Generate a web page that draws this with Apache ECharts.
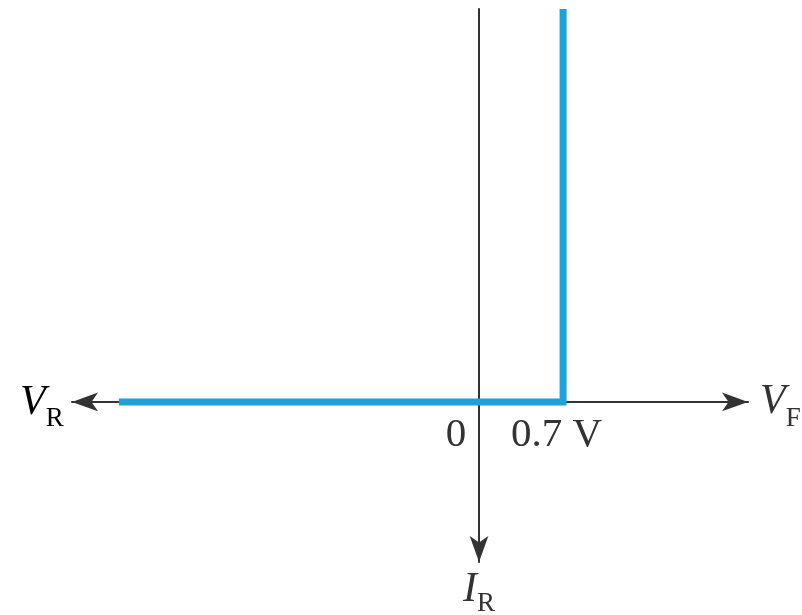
<!DOCTYPE html>
<html>
<head>
<meta charset="utf-8">
<title>Diode characteristic</title>
<script src="https://cdn.jsdelivr.net/npm/echarts@6/dist/echarts.min.js"></script>
<style>
  html, body { margin: 0; padding: 0; background: #fff; }
  #chart { width: 802px; height: 615px; }
</style>
</head>
<body>
<div id="chart"></div>
<script>
// axis ranges (volts on x, arbitrary current units on y)
const xRange = [-3.39, 2.24]
const yRange = [-1.63, 4]

// ideal-ish diode curve: flat reverse branch, knee at 0.7 V
const curveX = [-3.0, 0.7, 0.7]
const curveY = [0, 0, 4]

const tickValues = [0, 0.7]
const tickLabels = ['0', '0.7 V']

const serif = 'Liberation Serif'
const ink = '#333'
const blue = '#1da1db'

const sub = (pad) => ({
  v: { fontFamily: serif, fontSize: 42, fontStyle: 'italic', color: ink, lineHeight: 50 },
  s: { fontFamily: serif, fontSize: 27, color: ink, lineHeight: 50, padding: [pad, 0, 0, 0] }
})

const chart = echarts.init(document.getElementById('chart'))

chart.setOption({
  animation: false,
  grid: { left: 72, right: 54, top: 9, bottom: 53, containLabel: false, outerBoundsMode: 'none' },
  xAxis: {
    type: 'value',
    min: xRange[0],
    max: xRange[1],
    splitLine: { show: false },
    axisTick: { show: false },
    axisLabel: { show: false },
    axisLine: {
      onZero: true,
      lineStyle: { color: ink, width: 2 },
      symbol: ['arrow', 'arrow'],
      symbolSize: [14, 26],
      symbolOffset: [0, 0]
    },
    name: '{v|V}{s|F}',
    nameLocation: 'end',
    nameGap: 12,
    nameTextStyle: { rich: sub(34) }
  },
  yAxis: {
    type: 'value',
    min: yRange[0],
    max: yRange[1],
    splitLine: { show: false },
    axisTick: { show: false },
    axisLabel: { show: false },
    axisLine: {
      onZero: true,
      lineStyle: { color: ink, width: 2 },
      symbol: ['arrow', 'none'],
      symbolSize: [14, 26],
      symbolOffset: [0, 0]
    },
    name: '{v|I}{s|R}',
    nameLocation: 'start',
    nameGap: 7,
    nameTextStyle: {
      rich: {
        v: { fontFamily: serif, fontSize: 42, fontStyle: 'italic', color: ink, lineHeight: 42 },
        s: { fontFamily: serif, fontSize: 27, color: ink, lineHeight: 42, padding: [28, 0, 0, 0] }
      }
    }
  },
  graphic: [{
    type: 'text',
    left: 20,
    top: 373,
    style: { text: '{v|V}{s|R}', rich: sub(32) }
  }],
  series: [{
    type: 'line',
    data: curveX.map((x, i) => [x, curveY[i]]),
    symbol: 'none',
    clip: false,
    lineStyle: { color: blue, width: 7, join: 'miter', cap: 'butt' },
    z: 5
  }, {
    // tick labels under the horizontal axis
    type: 'scatter',
    data: tickValues.map(v => [v, 0]),
    symbolSize: 0,
    silent: true,
    itemStyle: { opacity: 1, color: 'transparent' },
    label: {
      show: true,
      opacity: 1,
      position: 'bottom',
      distance: 13,
      formatter: (p) => (p.dataIndex === 0 ? '{z|' : '{t|') + tickLabels[p.dataIndex] + '}',
      rich: {
        z: { fontFamily: serif, fontSize: 41, color: ink, lineHeight: 41, padding: [0, 46, 0, 0] },
        t: { fontFamily: serif, fontSize: 41, color: ink, lineHeight: 41, padding: [0, 13, 0, 0] }
      }
    }
  }]
})
</script>
</body>
</html>
